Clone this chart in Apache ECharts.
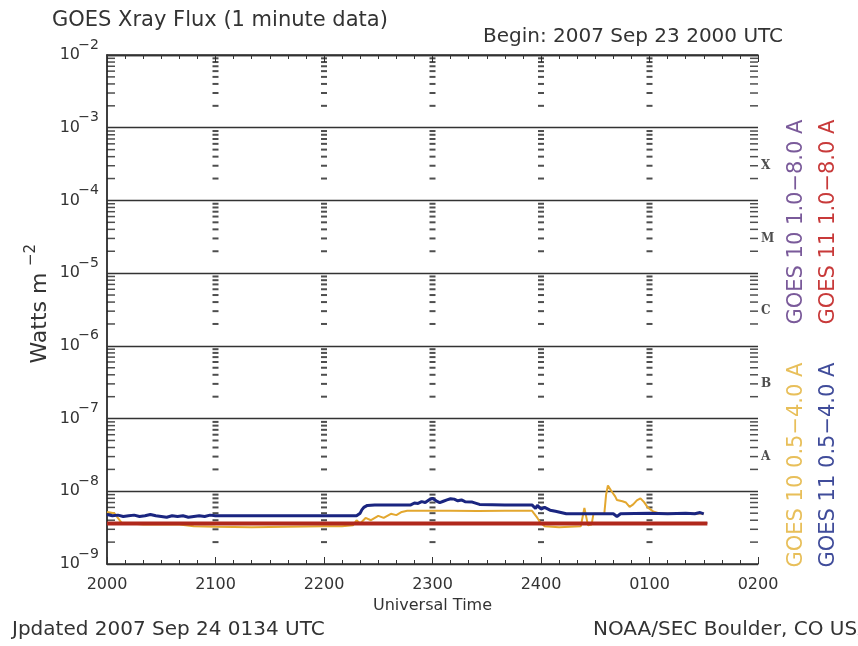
<!DOCTYPE html>
<html>
<head>
<meta charset="utf-8">
<script src="https://cdn.jsdelivr.net/npm/echarts@6/dist/echarts.min.js"></script>
<style>
  html, body { margin: 0; padding: 0; background: #fff; }
  #chart { width: 858px; height: 646px; }
</style>
</head>
<body>
<div id="chart"></div>
<script>
// x = minutes since 2000 UTC
const hourLabels = ['2000', '2100', '2200', '2300', '2400', '0100', '0200'];

const goes10Long = [[0, 3.65e-9], [332, 3.65e-9]];
const goes11Long = [[0, 3.6e-9], [332, 3.6e-9]];

const goes10Short = [
    [0, 5.2e-9], [4, 5.0e-9], [8, 3.7e-9], [20, 3.5e-9], [40, 3.5e-9], [48, 3.3e-9], [60, 3.25e-9],
    [80, 3.2e-9], [100, 3.25e-9], [120, 3.3e-9], [130, 3.3e-9], [136, 3.4e-9], [138, 4.0e-9],
    [140, 3.6e-9], [143, 4.3e-9], [146, 4.0e-9], [150, 4.6e-9], [153, 4.3e-9], [157, 4.9e-9],
    [160, 4.7e-9], [163, 5.2e-9], [166, 5.4e-9], [190, 5.4e-9], [205, 5.35e-9], [220, 5.4e-9],
    [235, 5.4e-9], [236, 5.0e-9], [238, 4.3e-9], [240, 3.6e-9], [242, 3.3e-9], [250, 3.2e-9],
    [262, 3.3e-9], [263, 3.4e-9], [264, 5.9e-9], [265, 5.8e-9], [266, 3.4e-9], [268, 3.5e-9],
    [269, 4.9e-9], [275, 4.9e-9], [276, 9.0e-9], [277, 1.2e-8], [278, 1.22e-8], [279, 1.0e-8],
    [281, 8.5e-9], [282, 7.6e-9], [285, 7.3e-9], [287, 7.0e-9], [289, 6.1e-9], [291, 6.6e-9],
    [293, 7.5e-9], [295, 8.0e-9], [297, 7.1e-9], [299, 6.0e-9], [302, 5.3e-9], [305, 5.0e-9],
    [315, 4.9e-9], [330, 4.95e-9]
];

const goes11Short = [
    [0, 4.8e-9], [3, 4.6e-9], [6, 4.7e-9], [9, 4.5e-9], [12, 4.6e-9], [15, 4.7e-9], [18, 4.5e-9],
    [21, 4.6e-9], [24, 4.8e-9], [27, 4.6e-9], [30, 4.5e-9], [33, 4.4e-9], [36, 4.6e-9], [39, 4.5e-9],
    [42, 4.6e-9], [45, 4.4e-9], [48, 4.5e-9], [51, 4.6e-9], [54, 4.5e-9], [57, 4.7e-9], [60, 4.6e-9],
    [70, 4.6e-9], [90, 4.6e-9], [110, 4.6e-9], [130, 4.6e-9], [138, 4.6e-9], [140, 5.0e-9],
    [141, 5.6e-9], [142, 6.0e-9], [144, 6.4e-9], [148, 6.5e-9], [168, 6.5e-9], [170, 6.9e-9],
    [172, 6.8e-9], [174, 7.2e-9], [176, 7.0e-9], [178, 7.6e-9], [180, 8.0e-9], [182, 7.4e-9],
    [184, 7.0e-9], [186, 7.3e-9], [188, 7.6e-9], [190, 7.9e-9], [192, 7.8e-9], [194, 7.4e-9],
    [196, 7.6e-9], [198, 7.2e-9], [202, 7.1e-9], [206, 6.6e-9], [220, 6.5e-9], [235, 6.5e-9],
    [237, 5.8e-9], [238, 6.4e-9], [240, 5.7e-9], [242, 6.0e-9], [245, 5.5e-9], [248, 5.3e-9],
    [251, 5.1e-9], [254, 4.9e-9], [270, 4.9e-9], [280, 4.9e-9], [282, 4.5e-9], [284, 4.9e-9],
    [300, 5.0e-9], [310, 4.9e-9], [320, 5.0e-9], [325, 4.9e-9], [328, 5.1e-9], [330, 4.9e-9]
];

const classLetters = ['A', 'B', 'C', 'M', 'X'];
const classLevels = [3e-8, 3e-7, 3e-6, 3e-5, 3e-4];

const axisColor = '#333';
const font = 'DejaVu Sans';

// log minor tick positions (2..9 x 10^n)
const minorY = [];
for (let n = -9; n < -2; n++) {
    for (let k = 2; k <= 9; k++) minorY.push(k * Math.pow(10, n));
}
const leftTicks = minorY.map(v => [0, v]);
const rightTicks = minorY.map(v => [360, v]);
const hourDashes = [];
[60, 120, 180, 240, 300].forEach(h => minorY.forEach(v => hourDashes.push([h, v])));

const xBase = {
    type: 'value',
    min: 0,
    max: 360,
    interval: 60,
    axisLine: { lineStyle: { color: axisColor, width: 1.5 } },
    axisTick: { inside: true, length: 7, lineStyle: { color: axisColor } },
    minorTick: { show: true, splitNumber: 6, length: 4, lineStyle: { color: axisColor } },
    splitLine: { show: false }
};
const yBase = {
    type: 'log',
    logBase: 10,
    min: 1e-9,
    max: 1e-2,
    axisLine: { show: true, lineStyle: { color: axisColor, width: 1.5 } },
    axisTick: { show: false },
    minorTick: { show: false },
    splitLine: { show: false }
};

const tickSeries = (data, offset, size) => ({
    type: 'scatter',
    data: data,
    symbol: 'rect',
    symbolSize: size,
    symbolOffset: offset,
    itemStyle: { color: '#222' },
    silent: true,
    clip: false,
    z: 1
});

const line = (name, data, color, width, z) => ({
    name: name,
    type: 'line',
    data: data,
    showSymbol: false,
    symbol: 'none',
    lineStyle: { color: color, width: width },
    itemStyle: { color: color },
    z: z
});

const vText = (text, x, y, font, color) => ({
    type: 'text', x: x, y: y, rotation: Math.PI / 2,
    style: { text: text, align: 'center', verticalAlign: 'middle', font: font, fill: color }
});

const chart = echarts.init(document.getElementById('chart'));
chart.setOption({
    backgroundColor: '#fff',
    animation: false,
    grid: { left: 107, right: 100, top: 55, bottom: 82 },
    xAxis: [
        Object.assign({}, xBase, {
            position: 'bottom',
            axisLabel: {
                formatter: v => hourLabels[Math.round(v / 60)],
                fontFamily: font, fontSize: 16, color: axisColor, margin: 13
            },
            name: 'Universal Time',
            nameLocation: 'middle',
            nameGap: 34,
            nameTextStyle: { fontFamily: font, fontSize: 16, color: axisColor }
        }),
        Object.assign({}, xBase, { position: 'top', axisLabel: { show: false } })
    ],
    yAxis: [
        // mantissa "10"
        Object.assign({}, yBase, {
            position: 'left',
            splitLine: { show: true, lineStyle: { color: axisColor, width: 1.3 } },
            axisLabel: {
                margin: 27,
                formatter: () => '10',
                fontFamily: font, fontSize: 16, color: axisColor
            }
        }),
        Object.assign({}, yBase, {
            position: 'right',
            axisLabel: { show: false }
        }),
        // exponent, raised
        Object.assign({}, yBase, {
            position: 'left',
            axisLine: { show: false },
            axisLabel: {
                margin: 8,
                formatter: v => '\u2212' + Math.abs(Math.round(Math.log10(v))),
                fontFamily: font, fontSize: 14, color: axisColor,
                verticalAlign: 'bottom', lineHeight: 14, padding: [0, 0, 3, 0]
            }
        })
    ],
    series: [
        tickSeries(leftTicks, [4, 0], [8, 1.5]),
        tickSeries(rightTicks, [-4, 0], [8, 1.5]),
        tickSeries(hourDashes, [0, 0], [6, 2]),
        line('GOES 10 1.0-8.0 A', goes10Long, '#7a5a9a', 2, 3),
        line('GOES 10 0.5-4.0 A', goes10Short, '#e3a72f', 2, 4),
        line('GOES 11 1.0-8.0 A', goes11Long, '#b0281c', 4, 5),
        line('GOES 11 0.5-4.0 A', goes11Short, '#1a2580', 3, 6),
        {
            type: 'scatter',
            data: classLevels.map((v, i) => [360, v, classLetters[i]]),
            symbolSize: 0,
            clip: false,
            silent: true,
            label: {
                show: true,
                position: 'right',
                distance: 3,
                formatter: p => p.data[2],
                fontFamily: 'DejaVu Serif',
                fontWeight: 'bold',
                fontSize: 12,
                color: '#222'
            }
        }
    ],
    graphic: [
        { type: 'text', left: 52, top: 10, style: { text: 'GOES Xray Flux (1 minute data)', font: '21px "DejaVu Sans"', fill: axisColor } },
        { type: 'text', left: 483, top: 27, style: { text: 'Begin: 2007 Sep 23 2000 UTC', font: '20px "DejaVu Sans"', fill: axisColor } },
        { type: 'text', left: 12, top: 620, style: { text: 'Jpdated 2007 Sep 24 0134 UTC', font: '20px "DejaVu Sans"', fill: axisColor } },
        { type: 'text', left: 593, top: 620, style: { text: 'NOAA/SEC Boulder, CO USA', font: '20px "DejaVu Sans"', fill: axisColor } },
        vText('Watts m', 40, 318, '22px "DejaVu Sans"', axisColor),
        vText('\u22122', 31, 255, '15px "DejaVu Sans"', axisColor),
        vText('GOES 10 1.0\u22128.0 A', 797, 222, '21px "DejaVu Sans"', '#7a5a9a'),
        vText('GOES 11 1.0\u22128.0 A', 829, 222, '21px "DejaVu Sans"', '#c83a3a'),
        vText('GOES 10 0.5\u22124.0 A', 797, 465, '21px "DejaVu Sans"', '#e8bf5a'),
        vText('GOES 11 0.5\u22124.0 A', 829, 465, '21px "DejaVu Sans"', '#404c9a')
    ]
});
</script>
</body>
</html>
